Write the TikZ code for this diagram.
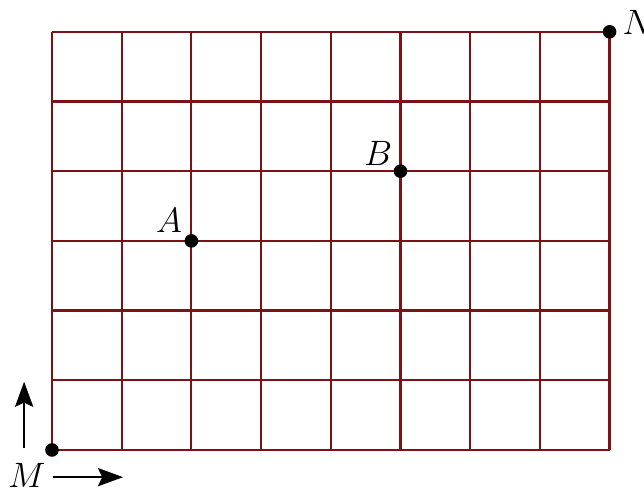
\documentclass[tikz,border=0pt]{standalone}
\usetikzlibrary{arrows.meta,positioning}
\definecolor{brick}{RGB}{125,18,22}
\tikzset{
  >={Stealth[length=3.6mm,width=2.6mm,inset=0.6mm]},
  lattice/.style={draw=brick,line width=0.9pt},
  dot/.style={circle,fill=black,inner sep=0pt,minimum size=1.95mm},
  lbl/.style={font=\fontsize{14}{16}\selectfont},
  dirarrow/.style={->,line width=1pt},
}
\begin{document}
\begin{tikzpicture}
  \useasboundingbox (-0.746,-0.574) rectangle (8.494,6.456);
  % street grid
  \draw[lattice,step=1] (0,0) grid (8,6);
  \node[dot] (M) at (0,0) {};
  \node[dot] (N) at (8,6) {};
  \node[dot] (A) at (2,3) {};
  \node[dot] (B) at (5,4) {};
  \node[lbl,anchor=west,inner sep=1pt] (Nl) at ([xshift=0.04cm,yshift=0.14cm]N.east) {$N$};
  \node[lbl] (Al) at (1.68,3.29) {$A$};
  \node[lbl] (Bl) at (4.68,4.26) {$B$};
  \node[lbl] (Ml) at (-0.36,-0.37) {$M$};
  % allowed directions
  \coordinate (up0) at (-0.40,0.03);
  \coordinate (up1) at (-0.40,0.98);
  \coordinate (rt0) at (0.02,-0.39);
  \coordinate (rt1) at (1.02,-0.39);
  \draw[dirarrow] (up0) -- (up1);
  \draw[dirarrow] (rt0) -- (rt1);
\end{tikzpicture}
\end{document}
